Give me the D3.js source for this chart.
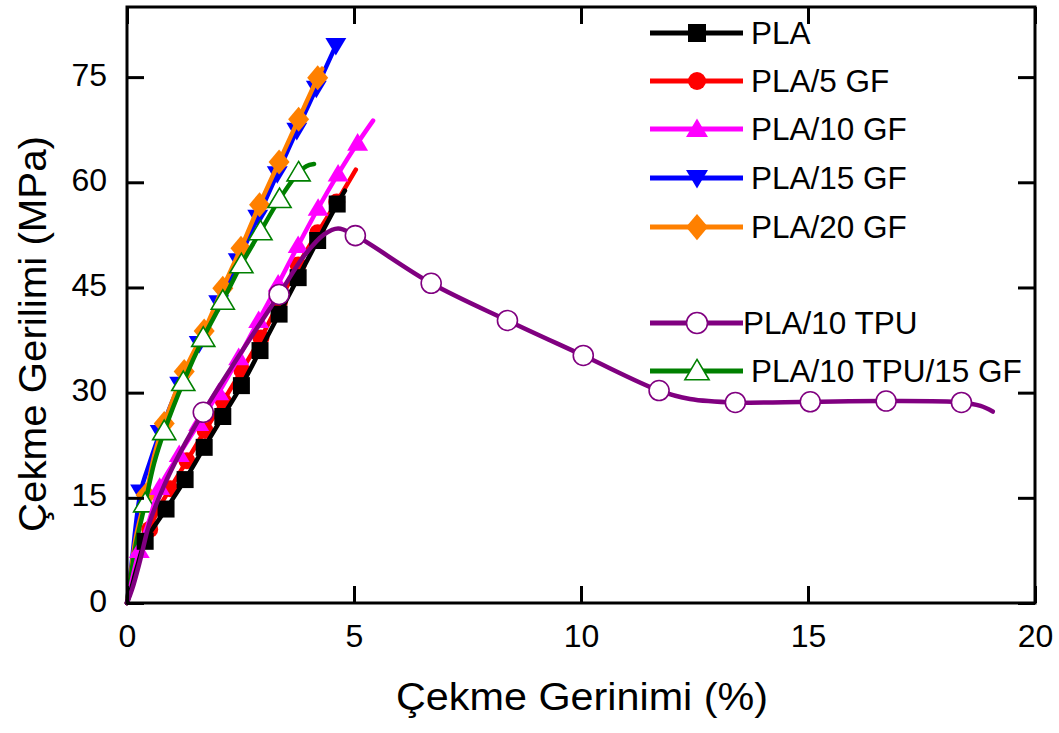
<!DOCTYPE html>
<html>
<head>
<meta charset="utf-8">
<script src="https://cdn.jsdelivr.net/npm/d3@7"></script>
<style>
  html, body { margin: 0; padding: 0; background: #fff; }
  svg { display: block; }
  text { font-family: "Liberation Sans", Arial, sans-serif; fill: #000; }
</style>
</head>
<body>
<svg id="chart" width="1059" height="733"></svg>
<script>
// Tensile stress–strain curves. Each point is [strain %, stress MPa, marker?]
const xTicks = [0, 5, 10, 15, 20];
const yTicks = [0, 15, 30, 45, 60, 75];

const seriesNames = ["PLA", "PLA/5 GF", "PLA/10 GF", "PLA/15 GF", "PLA/20 GF", "PLA/10 TPU", "PLA/10 TPU/15 GF"];
const seriesColors = ["#000000", "#ff0000", "#ff00ff", "#0000ff", "#ff8000", "#800080", "#008000"];
const seriesSymbols = ["square", "circle", "triangleUp", "triangleDown", "diamond", "openCircle", "openTriangle"];

const pla = [[0,0],[0.1,2.2],[0.22,5.1],[0.4,8.8,1],[0.64,11.3],[0.86,13.4,1],[1.28,17.6,1],[1.7,22.2,1],[2.11,26.6,1],[2.52,31.0,1],[2.93,36.0,1],[3.35,41.2,1],[3.77,46.4,1],[4.2,51.7,1],[4.63,56.9,1],[4.8,58.8]];
const pla5gf = [[0,0],[0.1,2.5],[0.25,6],[0.5,10.5,1],[0.7,13.5],[0.95,16.3,1],[1.32,20.3,1],[1.72,24.6,1],[2.12,28.8,1],[2.53,33.2,1],[2.95,37.8,1],[3.36,43.0,1],[3.77,48.2,1],[4.2,52.8,1],[4.62,57.2,1],[5.04,61.8]];
const pla10gf = [[0,0],[0.1,3],[0.27,7.5,1],[0.5,12],[0.72,16.5,1],[1.15,21.2,1],[1.58,25.6,1],[2.02,30.0,1],[2.46,35.0,1],[2.9,40.3,1],[3.33,45.5,1],[3.77,51.0,1],[4.21,56.3,1],[4.65,61.2,1],[5.08,65.6,1],[5.42,68.8]];
const pla15gf = [[0,0],[0.1,5.5],[0.3,15.8,1],[0.5,20],[0.73,24.3,1],[1.16,31.2,1],[1.59,37.0,1],[2.02,42.8,1],[2.45,48.8,1],[2.88,55.0,1],[3.31,61.2,1],[3.74,67.4,1],[4.17,73.4,1],[4.6,79.5,1]];
const pla20gf = [[0,0],[0.1,5],[0.2,9.5],[0.42,15.4,1],[0.6,21],[0.82,25.6,1],[1.26,33.0,1],[1.7,38.8,1],[2.11,44.9,1],[2.51,50.6,1],[2.92,56.8,1],[3.35,62.9,1],[3.78,69.0,1],[4.2,74.9,1],[4.3,76.2]];
const pla10tpu = [[0,0],[0.11,1.9],[0.29,6.1],[0.5,11.5],[0.8,16.5],[1.2,21.8],[1.68,27.2,1],[2.5,35.6],[3.35,44.0,1],[3.9,49.5],[4.35,52.6],[4.65,53.4],[5.03,52.4,1],[6.7,45.6,1],[8.38,40.3,1],[10.05,35.3,1],[11.72,30.3,1],[12.4,29.1],[13.4,28.6,1],[15.05,28.7,1],[16.72,28.8,1],[18.38,28.6,1],[18.8,28.1],[19.07,27.3]];
const pla10tpu15gf = [[0,0],[0.1,4.5],[0.2,8.5],[0.4,14.2,1],[0.6,20],[0.82,24.5,1],[1.24,31.5,1],[1.68,37.8,1],[2.11,43.1,1],[2.52,48.3,1],[2.94,53.0,1],[3.36,57.6,1],[3.78,61.4,1],[3.95,62.3],[4.12,62.6]];

const seriesData = [pla, pla5gf, pla10gf, pla15gf, pla20gf, pla10tpu, pla10tpu15gf];
// back-to-front drawing order (indices into the lists above)
const drawOrder = [3, 4, 6, 1, 2, 0, 5];

const svg = d3.select("#chart");
const plot = { left: 127, right: 1035, top: 7, bottom: 603 };

const x = d3.scaleLinear().domain([0, 20]).range([plot.left, plot.right]);
const y = d3.scaleLinear().domain([0, 85]).range([plot.bottom, plot.top]);

// marker shapes, r = half-size in px
function symbolPath(kind, r) {
  const p = d3.path();
  switch (kind) {
    case "square":
      p.rect(-r, -r, 2 * r, 2 * r); break;
    case "circle": case "openCircle":
      p.arc(0, 0, r, 0, 2 * Math.PI); break;
    case "triangleUp": case "openTriangle":
      p.moveTo(0, -r * 1.05); p.lineTo(r * 1.1, r * 0.8); p.lineTo(-r * 1.1, r * 0.8); p.closePath(); break;
    case "triangleDown":
      p.moveTo(0, r * 1.05); p.lineTo(r * 1.1, -r * 0.8); p.lineTo(-r * 1.1, -r * 0.8); p.closePath(); break;
    case "diamond":
      p.moveTo(0, -r * 1.25); p.lineTo(r * 1.05, 0); p.lineTo(0, r * 1.25); p.lineTo(-r * 1.05, 0); p.closePath(); break;
  }
  return p.toString();
}
const markerSize = { square: 8.5, circle: 8.5, triangleUp: 9.5, triangleDown: 9.5, diamond: 10, openCircle: 10, openTriangle: 10.5 };
const isOpen = k => k === "openCircle" || k === "openTriangle";

const line = d3.line()
  .x(d => x(d[0]))
  .y(d => y(d[1]))
  .curve(d3.curveCatmullRom.alpha(0.5));

const curves = svg.append("g");
drawOrder.forEach(i => {
  const g = curves.append("g");
  const col = seriesColors[i], kind = seriesSymbols[i];
  g.append("path")
    .attr("d", line(seriesData[i]))
    .attr("fill", "none")
    .attr("stroke", col)
    .attr("stroke-width", 4.5)
    .attr("stroke-linejoin", "round")
    .attr("stroke-linecap", "round");
  g.selectAll("path.mk")
    .data(seriesData[i].filter(d => d[2]))
    .join("path")
    .attr("class", "mk")
    .attr("transform", d => `translate(${x(d[0])},${y(d[1])})`)
    .attr("d", symbolPath(kind, markerSize[kind]))
    .attr("fill", isOpen(kind) ? "#fff" : col)
    .attr("stroke", col)
    .attr("stroke-width", isOpen(kind) ? 1.6 : 0);
});

// frame with inward ticks on all four sides
const tickLen = 17;
const axes = svg.append("g");
axes.append("rect")
  .attr("x", plot.left).attr("y", plot.top)
  .attr("width", plot.right - plot.left).attr("height", plot.bottom - plot.top)
  .attr("fill", "none").attr("stroke", "#000").attr("stroke-width", 3);

const xAxisB = d3.axisBottom(x).tickValues(xTicks).tickSize(-tickLen);
const xAxisT = d3.axisTop(x).tickValues(xTicks).tickSize(-tickLen).tickFormat("");
const yAxisL = d3.axisLeft(y).tickValues(yTicks).tickSize(-tickLen);
const yAxisR = d3.axisRight(y).tickValues(yTicks).tickSize(-tickLen).tickFormat("");

function styleAxis(sel) {
  sel.select(".domain").remove();
  sel.selectAll(".tick line").attr("stroke", "#000").attr("stroke-width", 3);
  sel.selectAll(".tick text").attr("font-size", 32).attr("fill", "#000")
    .attr("font-family", "Liberation Sans, Arial, sans-serif");
}
axes.append("g").attr("transform", `translate(0,${plot.bottom})`).call(xAxisB).call(styleAxis)
  .selectAll(".tick text").attr("dy", "0.71em").attr("y", 21);
axes.append("g").attr("transform", `translate(0,${plot.top})`).call(xAxisT).call(styleAxis);
axes.append("g").attr("transform", `translate(${plot.left},0)`).call(yAxisL).call(styleAxis)
  .selectAll(".tick text").attr("x", -20).attr("dy", "0.25em");
axes.append("g").attr("transform", `translate(${plot.right},0)`).call(yAxisR).call(styleAxis);

// axis titles
svg.append("text")
  .attr("x", 582).attr("y", 710)
  .attr("text-anchor", "middle")
  .attr("font-size", 39)
  .attr("textLength", 372)
  .attr("lengthAdjust", "spacingAndGlyphs")
  .text("Çekme Gerinimi (%)");
svg.append("text")
  .attr("transform", "translate(46,334) rotate(-90)")
  .attr("text-anchor", "middle")
  .attr("font-size", 39)
  .attr("textLength", 396)
  .attr("lengthAdjust", "spacingAndGlyphs")
  .text("Çekme Gerilimi (MPa)");

// legend
const legendRows = [33, 81, 129, 178, 227, 323, 371];
const legendTextX = [751, 751, 751, 751, 751, 743, 751];
const legend = svg.append("g");
seriesNames.forEach((name, i) => {
  const ly = legendRows[i], col = seriesColors[i], kind = seriesSymbols[i];
  legend.append("line")
    .attr("x1", 650).attr("x2", 743).attr("y1", ly).attr("y2", ly)
    .attr("stroke", col).attr("stroke-width", 5);
  legend.append("path")
    .attr("transform", `translate(697,${ly})`)
    .attr("d", symbolPath(kind, markerSize[kind] + 0.5))
    .attr("fill", isOpen(kind) ? "#fff" : col)
    .attr("stroke", col)
    .attr("stroke-width", isOpen(kind) ? 1.6 : 0);
  legend.append("text")
    .attr("x", legendTextX[i]).attr("y", ly + 11)
    .attr("font-size", 31.5)
    .text(name);
});
</script>
</body>
</html>
